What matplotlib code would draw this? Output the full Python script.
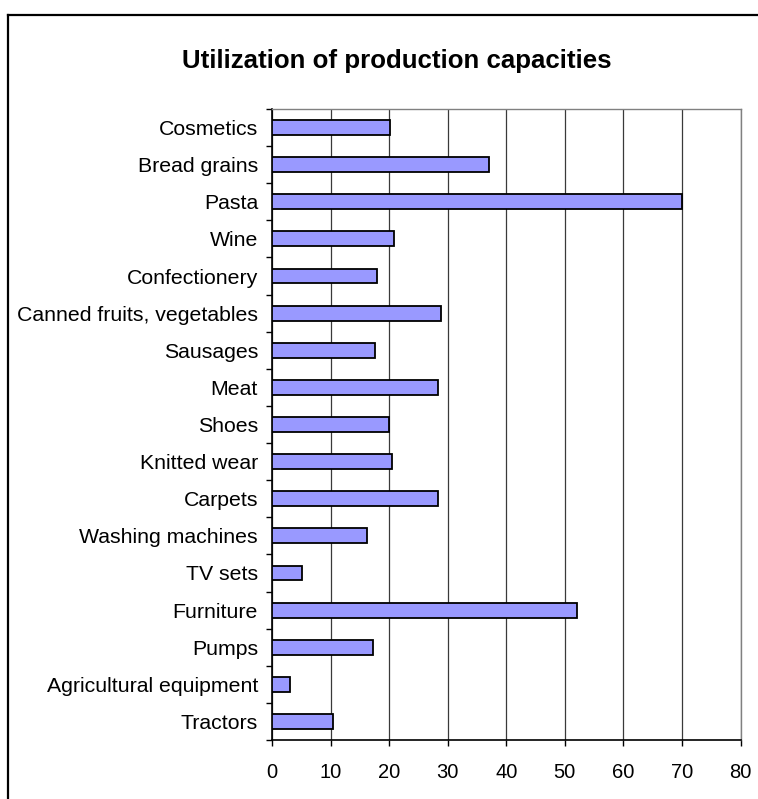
import numpy as np
import matplotlib
matplotlib.use("Agg")
import matplotlib.pyplot as plt
from matplotlib.lines import Line2D

# capacity utilisation, %, listed top to bottom
categories = [
    "Cosmetics", "Bread grains", "Pasta", "Wine", "Confectionery",
    "Canned fruits, vegetables", "Sausages", "Meat", "Shoes", "Knitted wear",
    "Carpets", "Washing machines", "TV sets", "Furniture", "Pumps",
    "Agricultural equipment", "Tractors",
]
values = [20.2, 37.0, 70.0, 20.8, 17.9, 28.9, 17.6, 28.4, 20.0, 20.5,
          28.4, 16.2, 5.2, 52.1, 17.3, 3.0, 10.5]
x_ticks = [0, 10, 20, 30, 40, 50, 60, 70, 80]

W, H = 758, 799
plt.rcParams["font.family"] = ["Liberation Sans", "DejaVu Sans"]

fig = plt.figure(figsize=(W / 100, H / 100), dpi=100)
ax = fig.add_axes([272 / W, 1 - 740 / H, (740.5 - 272) / W, (740 - 109) / H])

pos = np.arange(len(categories))
ax.barh(pos, values, height=0.4, color="#9999ff", edgecolor="black",
        linewidth=1.3, zorder=3)

ax.set_xlim(0, 80)
ax.set_ylim(len(categories) - 0.5, -0.5)

# category ticks sit between bars, labels at bar centres
ax.set_yticks(np.arange(-0.5, len(categories), 1.0))
ax.set_yticklabels([])
ax.set_yticks(pos, minor=True)
ax.set_yticklabels(categories, minor=True)
ax.tick_params(axis="y", which="major", direction="out", length=4.5,
               width=1, color="black")
ax.tick_params(axis="y", which="minor", length=0, pad=10, labelsize=15.3)

ax.set_xticks(x_ticks)
ax.set_xticklabels([str(v) for v in x_ticks])
ax.tick_params(axis="x", direction="out", length=4.5, width=1,
               color="black", pad=12, labelsize=14.5)

ax.grid(axis="x", color="#3a3a3a", linewidth=0.9, zorder=0)
ax.grid(axis="y", visible=False)
for side in ("left", "bottom"):
    ax.spines[side].set_color("black")
    ax.spines[side].set_linewidth(1.2)
for side in ("top", "right"):
    ax.spines[side].set_color("#808080")
    ax.spines[side].set_linewidth(1.0)
ax.set_axisbelow(True)

fig.text(397 / W, 1 - 68 / H, "Utilization of production capacities",
         ha="center", va="baseline", fontsize=18.6, fontweight="bold")

# chart frame, running off the right and bottom edges
fig.add_artist(Line2D([8 / W, 8 / W], [1 - 15 / H, -0.1], color="black",
                      linewidth=1.6, transform=fig.transFigure))
fig.add_artist(Line2D([8 / W, 1.1], [1 - 15 / H, 1 - 15 / H], color="black",
                      linewidth=1.6, transform=fig.transFigure))

fig.savefig("out.png", dpi=100)
